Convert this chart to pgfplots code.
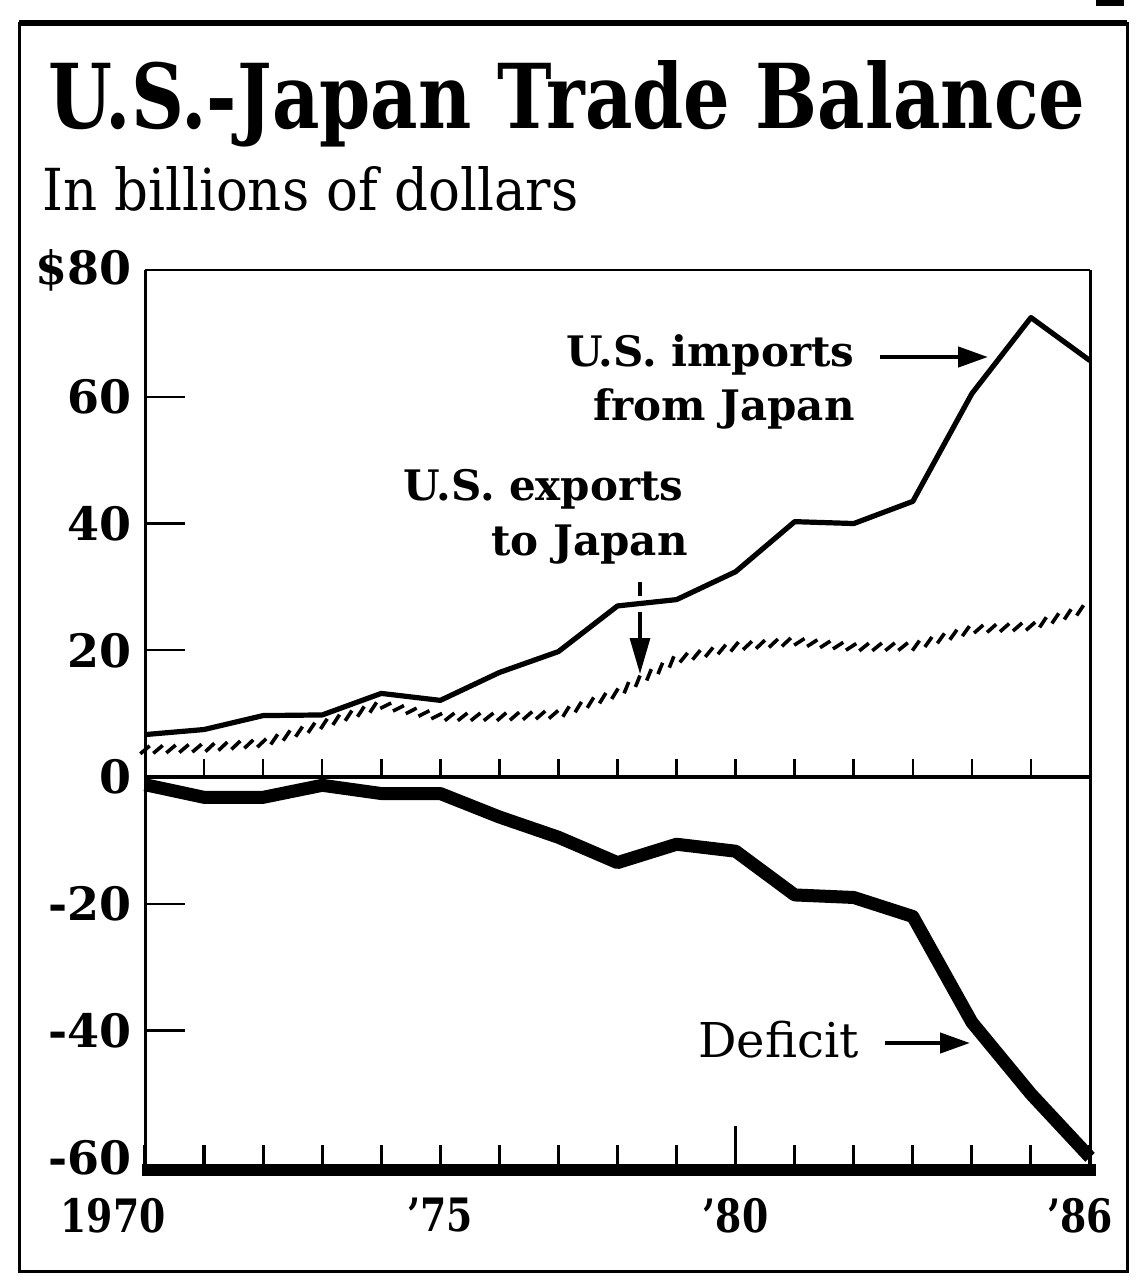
\documentclass[border=0pt]{standalone}
\usepackage{fontspec}
\setmainfont{DejaVu Serif}
\newfontfamily\yearfont{DejaVu Serif}[FakeStretch=0.82]
\usepackage{pgfplots}
\usepackage{pgfplotstable}
\pgfplotsset{compat=1.18}
\usetikzlibrary{arrows.meta,decorations.markings}

% U.S.-Japan trade, billions of dollars
\pgfplotstableread{
year imports exports deficit
1970  6.7  4.3  -1.2
1971  7.5  4.6  -3.2
1972  9.7  5.4  -3.2
1973  9.8  8.3  -1.3
1974 13.2 11.4  -2.6
1975 12.1  9.5  -2.6
1976 16.5  9.5  -6.3
1977 19.8  9.9  -9.5
1978 27.0 13.3 -13.5
1979 28.0 18.6 -10.6
1980 32.4 20.6 -11.7
1981 40.3 21.4 -18.6
1982 40.0 20.5 -19.0
1983 43.5 20.6 -22.0
1984 60.5 23.3 -38.7
1985 72.5 23.8 -50.0
1986 65.7 26.8 -60.0
}\tradedata

\begin{document}
\begin{tikzpicture}
\useasboundingbox (0pt,0pt) rectangle (571.5pt,-640pt);

% page frame
\draw[line width=1.5pt] (9.5pt,-11.5pt) rectangle (563.5pt,-635.5pt);
\draw[line width=2.6pt] (9.5pt,-11.5pt) -- (563.5pt,-11.5pt);
\fill (548pt,0pt) rectangle (562pt,-3pt);

% headings
\node[anchor=base west, inner sep=0pt] at (24pt,-64pt)
  {\resizebox{518.5pt}{34pt}{\bfseries U.S.-Japan Trade Balance}};
\node[anchor=base west, inner sep=0pt] at (21pt,-105pt)
  {\resizebox{268pt}{22pt}{In billions of dollars}};

\begin{axis}[
  at={(72.5pt,-585pt)}, anchor=south west,
  scale only axis, width=472.5pt, height=450pt,
  xmin=1970, xmax=1986, ymin=-62, ymax=80,
  axis line style={draw=none},
  clip=false,
  tick align=inside,
  xtick pos=bottom, ytick pos=left,
  xtick={1970,...,1986},
  xticklabels={\hspace*{-32pt}1970,,,,,’75,,,,,’80,,,,,,\hspace*{-10pt}’86},
  xtick style={black, line width=1.6pt, /pgfplots/major tick length=12.5pt},
  xticklabel style={font=\yearfont\bfseries\fontsize{23}{23}\selectfont, inner sep=0pt, yshift=-14pt},
  ytick={-40,-20,20,40,60},
  yticklabels={-40,-20,20,40,60},
  ytick style={black, line width=1.1pt, /pgfplots/major tick length=20pt},
  yticklabel style={font=\bfseries\fontsize{23}{23}\selectfont, inner sep=0pt, xshift=-6.5pt},
  extra y ticks={-60,0,80},
  extra y tick labels={-60,0,\$80},
  extra y tick style={major tick style={draw=none}},
]
% frame of the plot area
\draw[line width=1.5pt] (rel axis cs:0,0) -- (rel axis cs:0,1);
\draw[line width=1.2pt] (rel axis cs:0,1) -- (rel axis cs:1,1);
\draw[line width=1.5pt] (rel axis cs:1,1) -- (rel axis cs:1,0);
\draw[line width=6pt] (rel axis cs:-0.003,0) -- (rel axis cs:1.006,0);
% longer tick for 1980
\draw[line width=1.6pt] (axis cs:1980,-62) -- ++(0pt,22pt);

% zero line with year ticks
\draw[line width=2pt] (axis cs:1970,0) -- (axis cs:1986,0);
\pgfplotsinvokeforeach{1971,1972,1973,1974,1975,1976,1977,1978,1979,1980,1981,1982,1983,1984,1985}{
  \draw[line width=1.3pt] (axis cs:#1,0) -- ++(0pt,9pt);
}

% imports
\addplot[black, line width=2.6pt, line join=round] table[x=year,y=imports]{\tradedata};
% exports, hatched
\addplot[draw=none, postaction={decorate},
  decoration={markings, mark=between positions 0 and 1 step 6.5pt with
    {\draw[line width=1.8pt] (-2.4pt,-1.9pt) -- (2.4pt,1.9pt);}}]
  table[x=year,y=exports]{\tradedata};
% deficit
\addplot[black, line width=6.5pt, line join=round] table[x=year,y=deficit]{\tradedata};
\end{axis}

% labels and arrows
\node[anchor=base east, inner sep=0pt, font=\bfseries\fontsize{21}{21}\selectfont] at (427.5pt,-183pt) {U.S. imports};
\node[anchor=base east, inner sep=0pt, font=\bfseries\fontsize{21}{21}\selectfont] at (427.5pt,-210pt) {from Japan};
\draw[line width=2.2pt, -{Triangle[length=15pt,width=10pt]}] (440pt,-178.5pt) -- (494pt,-178.5pt);

\node[anchor=base east, inner sep=0pt, font=\bfseries\fontsize{21}{21}\selectfont] at (342pt,-250pt) {U.S. exports};
\node[anchor=base east, inner sep=0pt, font=\bfseries\fontsize{21}{21}\selectfont] at (344pt,-277.5pt) {to Japan};
\draw[line width=1.6pt] (320pt,-291pt) -- (320pt,-298pt);
\draw[line width=1.6pt, -{Triangle[length=18pt,width=10pt]}] (320pt,-306pt) -- (320pt,-337pt);

\node[anchor=base west, inner sep=0pt, font=\fontsize{24}{24}\selectfont] at (349pt,-528.5pt) {Deficit};
\draw[line width=2.2pt, -{Triangle[length=15pt,width=10pt]}] (442.5pt,-521.5pt) -- (485pt,-521.5pt);
\end{tikzpicture}
\end{document}
